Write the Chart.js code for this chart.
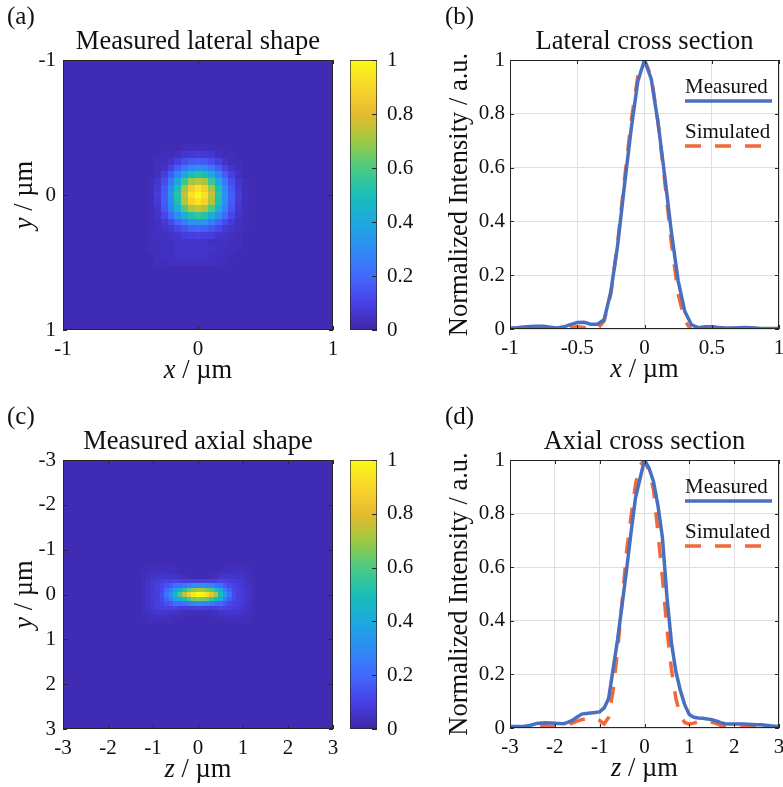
<!DOCTYPE html>
<html>
<head>
<meta charset="utf-8">
<script src="https://cdn.jsdelivr.net/npm/chart.js@4.4.1/dist/chart.umd.min.js"></script>
<style>
  html, body { margin: 0; padding: 0; background: #fff; }
  #fig { position: relative; width: 783px; height: 787px; overflow: hidden; }
  canvas { position: absolute; }
</style>
</head>
<body>
<div id="fig">
  <canvas id="mapA" width="340" height="390" style="left:0;top:0"></canvas>
  <canvas id="barA" width="80" height="390" style="left:340px;top:0"></canvas>
  <canvas id="lineB" width="363" height="390" style="left:420px;top:0"></canvas>
  <canvas id="mapC" width="340" height="397" style="left:0;top:390px"></canvas>
  <canvas id="barC" width="80" height="397" style="left:340px;top:390px"></canvas>
  <canvas id="lineD" width="363" height="397" style="left:420px;top:390px"></canvas>
</div>
<script>
// ---------- data ----------

// (b) lateral cross section, x in µm
const lateralX = [-1,-0.95,-0.9,-0.85,-0.8,-0.75,-0.7,-0.65,-0.6,-0.55,-0.5,-0.45,-0.4,-0.35,-0.3,-0.25,-0.2,-0.15,-0.1,-0.05,
  0,0.05,0.1,0.15,0.2,0.25,0.3,0.35,0.4,0.45,0.5,0.55,0.6,0.65,0.7,0.75,0.8,0.85,0.9,0.95,1];
const lateralMeasured = [0.004,0.005,0.007,0.009,0.010,0.010,0.007,0.004,0.008,0.016,0.024,0.025,0.018,0.018,0.035,0.14,0.31,0.53,0.74,0.92,
  1.00,0.93,0.77,0.57,0.36,0.18,0.065,0.015,0.005,0.008,0.008,0.006,0.004,0.004,0.005,0.006,0.005,0.003,0.002,0.002,0.002];
const lateralSimulated = [0.002,0.002,0.002,0.002,0.002,0.002,0.002,0.002,0.003,0.005,0.008,0.006,0.002,0.0,0.03,0.13,0.32,0.55,0.77,0.94,
  1.00,0.94,0.77,0.55,0.32,0.13,0.03,-0.005,0.005,0.01,0.007,0.003,0.001,0.001,0.001,0.001,0.001,0.001,0.001,0.001,0.001];

// (d) axial cross section, z in µm
const axialZ = [-3,-2.9,-2.8,-2.7,-2.6,-2.5,-2.4,-2.3,-2.2,-2.1,-2,-1.9,-1.8,-1.7,-1.6,-1.5,-1.4,-1.3,-1.2,-1.1,-1,-0.9,-0.8,-0.7,-0.6,-0.5,-0.4,-0.3,-0.2,-0.1,
  0,0.1,0.2,0.3,0.4,0.5,0.6,0.7,0.8,0.9,1,1.1,1.2,1.3,1.4,1.5,1.6,1.7,1.8,1.9,2,2.1,2.2,2.3,2.4,2.5,2.6,2.7,2.8,2.9,3];
const axialMeasured = [0.006,0.006,0.006,0.006,0.008,0.012,0.017,0.019,0.020,0.019,0.018,0.017,0.016,0.022,0.030,0.041,0.052,0.054,0.056,0.058,
  0.060,0.075,0.11,0.22,0.33,0.46,0.59,0.73,0.86,0.93,
  1.00,0.97,0.92,0.83,0.71,0.49,0.32,0.21,0.14,0.085,0.05,0.04,0.037,0.036,0.034,0.031,0.026,0.02,0.016,0.015,
  0.015,0.015,0.015,0.014,0.013,0.012,0.012,0.010,0.008,0.007,0.006];
const axialSimulated = [0.004,0.004,0.004,0.004,0.005,0.006,0.007,0.008,0.008,0.007,0.006,0.006,0.008,0.013,0.019,0.026,0.031,0.035,0.037,0.036,
  0.028,0.015,0.04,0.14,0.29,0.47,0.66,0.79,0.91,0.98,
  1.00,0.96,0.89,0.73,0.56,0.37,0.22,0.11,0.045,0.02,0.015,0.018,0.024,0.026,0.025,0.022,0.016,0.01,0.005,0.004,
  0.004,0.003,0.003,0.003,0.003,0.003,0.003,0.003,0.003,0.003,0.003];

// (a) lateral shape: central cells (percent of max), 0.05 µm pixels, rest is background
const lateralMapX = [-0.35,-0.3,-0.25,-0.2,-0.15,-0.1,-0.05,0,0.05,0.1,0.15,0.2,0.25,0.3,0.35];
const lateralMapY = [-0.35,-0.3,-0.25,-0.2,-0.15,-0.1,-0.05,0,0.05,0.1,0.15,0.2,0.25,0.3,0.35,0.4,0.45,0.5];
const lateralMapBackground = 2;
const lateralMapRows = [
  [2,2,2,2,2,3,3,3,3,3,2,2,2,2,2],
  [2,2,3,3,4,6,7,8,7,6,4,3,3,2,2],
  [2,3,3,5,9,13,16,17,16,13,9,5,3,3,2],
  [2,3,5,10,17,24,30,32,30,24,17,10,5,3,2],
  [2,4,9,17,28,40,49,53,49,40,28,17,9,4,2],
  [3,6,13,24,40,57,70,75,70,57,40,24,13,6,3],
  [3,7,16,30,49,70,87,93,87,70,49,30,16,7,3],
  [3,8,17,32,53,75,93,100,93,75,53,32,17,8,3],
  [3,7,17,31,51,72,88,94,88,72,51,31,17,7,3],
  [3,6,15,27,43,60,72,77,72,60,43,27,15,6,3],
  [3,5,11,20,31,43,52,56,52,43,31,20,11,5,3],
  [3,4,7,12,19,26,32,34,32,26,19,12,7,4,3],
  [3,4,5,7,11,15,18,19,18,15,11,7,5,4,3],
  [3,4,4,5,6,8,9,10,9,8,6,5,4,3,2],
  [3,3,4,4,5,5,5,5,5,4,4,4,3,3,2],
  [3,3,4,4,5,5,5,5,5,5,4,4,3,3,2],
  [2,3,4,4,5,5,5,5,5,4,4,3,3,2,2],
  [2,3,3,4,4,4,4,4,4,4,3,3,2,2,2]
];

// (c) axial shape: central cells (percent of max), 0.1 µm pixels
const axialMapZ = [-1.2,-1.1,-1,-0.9,-0.8,-0.7,-0.6,-0.5,-0.4,-0.3,-0.2,-0.1,0,0.1,0.2,0.3,0.4,0.5,0.6,0.7,0.8,0.9,1,1.1,1.2];
const axialMapY = [-0.6,-0.5,-0.4,-0.3,-0.2,-0.1,0,0.1,0.2,0.3,0.4,0.5,0.6];
const axialMapBackground = 2;
const axialMapRows = [
  [2,3,3,3,3,3,3,2,2,2,2,2,2,2,2,2,2,2,3,3,3,3,3,3,2],
  [3,3,4,4,4,4,3,3,2,2,2,2,2,2,2,2,2,3,3,4,4,4,4,3,3],
  [3,4,5,6,6,6,5,5,4,3,2,2,2,2,2,3,4,5,6,6,6,5,5,4,3],
  [3,5,7,8,9,10,10,11,9,8,8,8,9,9,8,8,9,11,10,9,8,7,6,4,3],
  [4,5,7,9,11,14,17,22,22,24,28,31,33,32,30,27,23,21,16,12,10,8,6,5,3],
  [4,6,7,9,12,19,26,37,43,53,62,68,72,70,66,60,51,39,26,17,12,9,7,5,4],
  [4,6,8,9,13,23,33,46,59,74,86,95,100,97,92,83,71,49,32,21,13,9,7,5,4],
  [4,6,7,9,12,19,26,37,40,50,58,65,68,66,63,56,48,39,26,17,12,9,7,5,4],
  [4,5,7,9,11,14,17,21,20,22,26,29,30,29,28,25,21,20,16,12,10,8,7,5,3],
  [3,5,7,8,9,10,10,11,8,8,8,8,9,9,8,8,9,11,10,9,8,7,6,4,3],
  [3,4,5,6,6,6,5,5,4,3,3,3,3,3,3,3,4,5,6,6,6,6,5,4,3],
  [3,3,4,4,4,4,3,3,3,2,2,2,2,2,2,2,3,3,4,4,4,4,4,3,3],
  [2,3,3,3,3,3,3,2,2,2,2,2,2,2,2,2,2,2,3,3,3,3,3,3,2]
];

const colorbarTicks = [0, 0.2, 0.4, 0.6, 0.8, 1];

// ---------- styles ----------
const serif = "'Liberation Serif', 'Times New Roman', serif";
const textColor = '#111111';
const axisColor = '#262626';
const gridColor = '#dfdfdf';
const blue = '#4a6fbf';
const orange = '#f2683a';
const parulaStops = ['#3e26a8','#4741e5','#4269fe','#2d8cf3','#1ca9df','#19bfb6','#4acb84','#9dc943','#e6bb2d','#fad62d','#f9fb15'];

Chart.defaults.font.family = serif;
Chart.defaults.color = textColor;
Chart.defaults.animation = false;

function hexToRgb(h) {
  return [parseInt(h.slice(1,3),16), parseInt(h.slice(3,5),16), parseInt(h.slice(5,7),16)];
}
const parulaRgb = parulaStops.map(hexToRgb);

// maps 0..1 to a parula colour
function parula(v) {
  const t = Math.max(0, Math.min(1, v)) * (parulaRgb.length - 1);
  const i = Math.min(Math.floor(t), parulaRgb.length - 2);
  const f = t - i;
  const a = parulaRgb[i], b = parulaRgb[i + 1];
  return `rgb(${Math.round(a[0]+(b[0]-a[0])*f)},${Math.round(a[1]+(b[1]-a[1])*f)},${Math.round(a[2]+(b[2]-a[2])*f)})`;
}

// plain tick text like matlab: 1, 0.8, -0.5
const plainTick = v => String(Number(Number(v).toFixed(2)));

// draws text made of pieces, some italic, centred on (cx, cy)
function drawMixed(ctx, parts, cx, cy, rot, size) {
  let total = 0;
  parts.forEach(p => { ctx.font = `${p[1] ? 'italic ' : ''}${size}px ${serif}`; total += ctx.measureText(p[0]).width; });
  ctx.save();
  ctx.translate(cx, cy);
  ctx.rotate(rot);
  ctx.textAlign = 'left';
  ctx.textBaseline = 'middle';
  let x = -total / 2;
  parts.forEach(p => {
    ctx.font = `${p[1] ? 'italic ' : ''}${size}px ${serif}`;
    ctx.fillText(p[0], x, 0);
    x += ctx.measureText(p[0]).width;
  });
  ctx.restore();
}

// titles, panel letter, box, inward ticks and legend
function makeDecor(cfg) {
  return {
    id: 'decor',
    afterDraw(chart) {
      const ctx = chart.ctx, a = chart.chartArea;
      ctx.save();
      ctx.fillStyle = textColor;
      ctx.textBaseline = 'middle';
      if (cfg.letter) {
        ctx.font = `25px ${serif}`;
        ctx.textAlign = 'left';
        ctx.fillText(cfg.letter, cfg.letterX, a.top - 43);
      }
      if (cfg.title) {
        ctx.font = `26.5px ${serif}`;
        ctx.textAlign = 'center';
        ctx.fillText(cfg.title, (a.left + a.right) / 2, a.top - 18);
      }
      if (cfg.xTitle) drawMixed(ctx, cfg.xTitle, (a.left + a.right) / 2, a.bottom + 41, 0, 26.5);
      if (cfg.yTitle) drawMixed(ctx, cfg.yTitle, cfg.yTitleX, (a.top + a.bottom) / 2, -Math.PI / 2, 26.5);

      // box and inward ticks
      ctx.strokeStyle = axisColor;
      ctx.lineWidth = 1;
      ctx.strokeRect(a.left + 0.5, a.top + 0.5, a.right - a.left - 1, a.bottom - a.top - 1);
      const xs = chart.scales.x, ys = chart.scales.y;
      ctx.beginPath();
      xs.ticks.forEach(t => {
        const px = Math.round(xs.getPixelForValue(t.value)) + 0.5;
        ctx.moveTo(px, a.bottom); ctx.lineTo(px, a.bottom - 4);
        ctx.moveTo(px, a.top); ctx.lineTo(px, a.top + 4);
      });
      ys.ticks.forEach(t => {
        const py = Math.round(ys.getPixelForValue(t.value)) + 0.5;
        ctx.moveTo(a.left, py); ctx.lineTo(a.left + 4, py);
        ctx.moveTo(a.right, py); ctx.lineTo(a.right - 4, py);
      });
      ctx.stroke();

      // legend: label above a line sample
      if (cfg.legend) {
        const lx0 = a.right - 94, lx1 = a.right - 7;
        chart.data.datasets.forEach((ds, i) => {
          const base = a.top + 33 + i * 45;
          ctx.font = `21px ${serif}`;
          ctx.textAlign = 'left';
          ctx.textBaseline = 'alphabetic';
          ctx.fillStyle = textColor;
          ctx.fillText(ds.label, lx0, base);
          ctx.strokeStyle = ds.borderColor;
          ctx.lineWidth = 3.5;
          ctx.setLineDash(ds.borderDash || []);
          ctx.beginPath();
          ctx.moveTo(lx0, base + 8);
          ctx.lineTo(lx1, base + 8);
          ctx.stroke();
          ctx.setLineDash([]);
        });
      }
      ctx.restore();
    }
  };
}

// image cells drawn through the chart scales
function makeHeat(xs, ys, rows, background, cell) {
  return {
    id: 'heat',
    beforeDatasetsDraw(chart) {
      const ctx = chart.ctx, a = chart.chartArea, sx = chart.scales.x, sy = chart.scales.y;
      ctx.save();
      ctx.beginPath();
      ctx.rect(a.left, a.top, a.right - a.left, a.bottom - a.top);
      ctx.clip();
      ctx.fillStyle = parula(background / 100);
      ctx.fillRect(a.left, a.top, a.right - a.left, a.bottom - a.top);
      const h = cell / 2;
      ys.forEach((yv, r) => xs.forEach((xv, c) => {
        const v = rows[r][c];
        if (v === undefined) return;
        const x0 = Math.round(sx.getPixelForValue(xv - h)), x1 = Math.round(sx.getPixelForValue(xv + h));
        const y0 = Math.round(sy.getPixelForValue(yv - h)), y1 = Math.round(sy.getPixelForValue(yv + h));
        ctx.fillStyle = parula(v / 100);
        ctx.fillRect(Math.min(x0, x1), Math.min(y0, y1), Math.abs(x1 - x0), Math.abs(y1 - y0));
      }));
      ctx.restore();
    }
  };
}

function tickFont() { return { family: serif, size: 21 }; }

// fixed axis sizes so the plot boxes land where the figure has them
function fixHeight(h) { return s => { s.height = h; s.paddingLeft = 0; s.paddingRight = 0; }; }
function fixWidth(w) { return s => { s.width = w; s.paddingTop = 0; s.paddingBottom = 0; }; }

function heatChart(id, range, xs, ys, rows, background, cell, decor, padTop, xHeight) {
  return new Chart(document.getElementById(id), {
    type: 'scatter',
    data: { datasets: [] },
    options: {
      responsive: false,
      layout: { padding: { top: padTop, right: 7, left: 0, bottom: 0 } },
      plugins: { legend: { display: false }, tooltip: { enabled: false } },
      scales: {
        x: {
          type: 'linear', min: -range, max: range,
          ticks: { stepSize: 1, font: tickFont(), color: textColor, padding: 7, maxRotation: 0, callback: plainTick },
          grid: { display: false, drawTicks: false }, border: { display: false },
          afterFit: fixHeight(xHeight)
        },
        y: {
          type: 'linear', min: -range, max: range, reverse: true,
          ticks: { stepSize: 1, font: tickFont(), color: textColor, padding: 7, callback: plainTick },
          grid: { display: false, drawTicks: false }, border: { display: false },
          afterFit: fixWidth(63)
        }
      }
    },
    plugins: [makeHeat(xs, ys, rows, background, cell), makeDecor(decor)]
  });
}

function colorbarChart(id, padTop, padBottom) {
  return new Chart(document.getElementById(id), {
    type: 'bar',
    data: {
      labels: [''],
      datasets: [{
        data: [[colorbarTicks[0], colorbarTicks[colorbarTicks.length - 1]]],
        backgroundColor: c => {
          const a = c.chart.chartArea;
          if (!a) return 'transparent';
          const g = c.chart.ctx.createLinearGradient(0, a.bottom, 0, a.top);
          parulaStops.forEach((col, i) => g.addColorStop(i / (parulaStops.length - 1), col));
          return g;
        },
        borderColor: axisColor, borderWidth: 1, borderSkipped: false,
        barPercentage: 1, categoryPercentage: 1
      }]
    },
    options: {
      responsive: false,
      layout: { padding: { top: padTop, bottom: padBottom, left: 10, right: 0 } },
      plugins: { legend: { display: false }, tooltip: { enabled: false } },
      scales: {
        x: { display: false },
        y: {
          position: 'right', min: 0, max: 1,
          afterBuildTicks: s => { s.ticks = colorbarTicks.map(v => ({ value: v })); },
          ticks: { font: tickFont(), color: textColor, padding: 10, callback: plainTick },
          grid: { display: false, drawTicks: false }, border: { display: false },
          afterFit: fixWidth(43)
        }
      }
    },
    plugins: [{
      id: 'cbTicks',
      afterDraw(chart) {
        const ctx = chart.ctx, a = chart.chartArea, sy = chart.scales.y;
        ctx.save();
        ctx.strokeStyle = axisColor;
        ctx.lineWidth = 1;
        ctx.beginPath();
        colorbarTicks.forEach(v => {
          const py = Math.round(sy.getPixelForValue(v)) + 0.5;
          ctx.moveTo(a.right, py); ctx.lineTo(a.right - 5, py);
        });
        ctx.stroke();
        ctx.restore();
      }
    }]
  });
}

function lineChart(id, range, step, xs, measured, simulated, decor, padTop, xHeight) {
  return new Chart(document.getElementById(id), {
    type: 'line',
    data: {
      datasets: [
        { label: 'Measured', data: xs.map((x, i) => ({ x, y: measured[i] })),
          borderColor: blue, borderWidth: 3.5, pointRadius: 0, tension: 0, fill: false },
        { label: 'Simulated', data: xs.map((x, i) => ({ x, y: simulated[i] })),
          borderColor: orange, borderWidth: 3.5, borderDash: [16, 14], pointRadius: 0, tension: 0, fill: false }
      ]
    },
    options: {
      responsive: false,
      layout: { padding: { top: padTop, right: 4, left: 0, bottom: 0 } },
      plugins: { legend: { display: false }, tooltip: { enabled: false } },
      scales: {
        x: {
          type: 'linear', min: -range, max: range,
          ticks: { stepSize: step, font: tickFont(), color: textColor, padding: 7, maxRotation: 0, callback: plainTick },
          grid: { color: gridColor, drawTicks: false }, border: { display: false },
          afterFit: fixHeight(xHeight)
        },
        y: {
          type: 'linear', min: 0, max: 1,
          ticks: { stepSize: 0.2, font: tickFont(), color: textColor, padding: 5, callback: plainTick },
          grid: { color: gridColor, drawTicks: false }, border: { display: false },
          afterFit: fixWidth(90)
        }
      }
    },
    plugins: [makeDecor(decor)]
  });
}

const yLabel = [['Normalized Intensity / a.u.', false]];

heatChart('mapA', 1, lateralMapX, lateralMapY, lateralMapRows, lateralMapBackground, 0.05,
  { letter: '(a)', letterX: 7, title: 'Measured lateral shape', xTitle: [['x', true], [' / µm', false]],
    yTitle: [['y', true], [' / µm', false]], yTitleX: 25 }, 60, 60);
colorbarChart('barA', 60, 60);
lineChart('lineB', 1, 0.5, lateralX, lateralMeasured, lateralSimulated,
  { letter: '(b)', letterX: 25, title: 'Lateral cross section', xTitle: [['x', true], [' / µm', false]],
    yTitle: yLabel, yTitleX: 40, legend: true }, 60, 61);

heatChart('mapC', 3, axialMapZ, axialMapY, axialMapRows, axialMapBackground, 0.1,
  { letter: '(c)', letterX: 7, title: 'Measured axial shape', xTitle: [['z', true], [' / µm', false]],
    yTitle: [['y', true], [' / µm', false]], yTitleX: 25 }, 70, 58);
colorbarChart('barC', 70, 58);
lineChart('lineD', 3, 1, axialZ, axialMeasured, axialSimulated,
  { letter: '(d)', letterX: 25, title: 'Axial cross section', xTitle: [['z', true], [' / µm', false]],
    yTitle: yLabel, yTitleX: 40, legend: true }, 70, 59);
</script>
</body>
</html>
